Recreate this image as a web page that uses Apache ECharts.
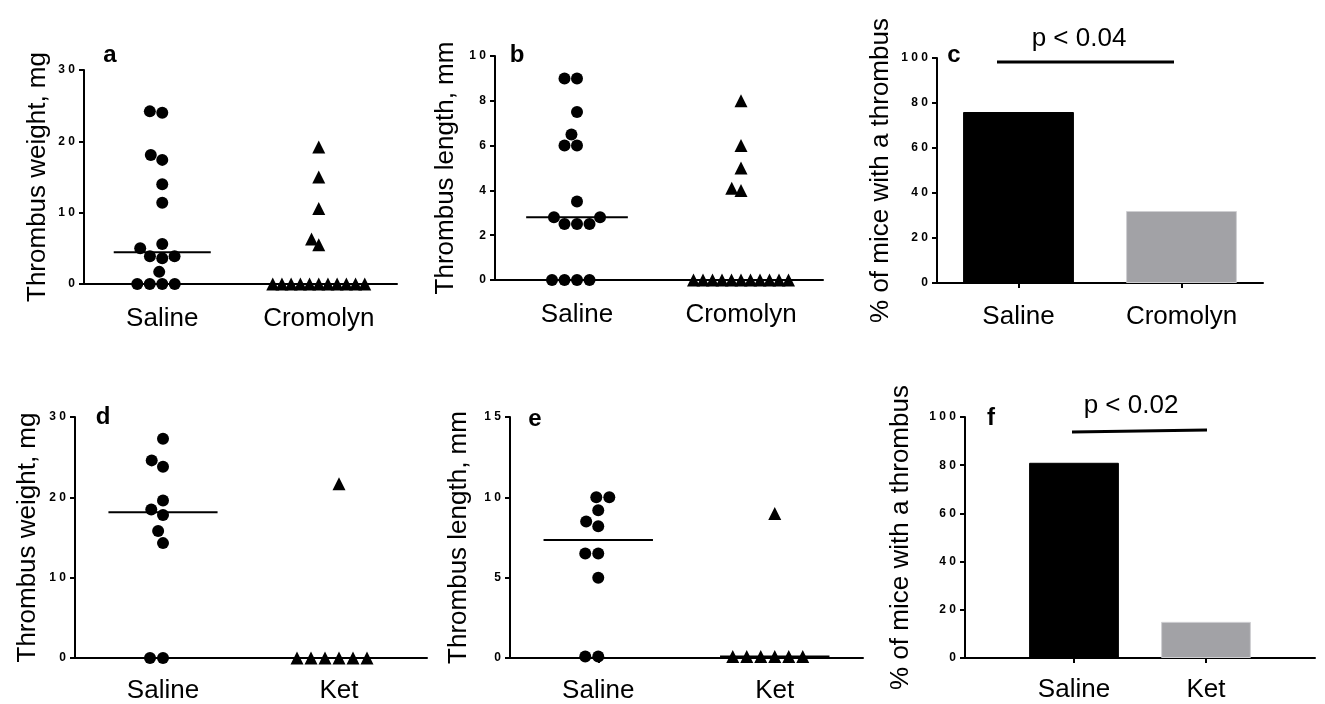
<!DOCTYPE html>
<html lang="en">
<head>
    <meta charset="UTF-8">
    <title>Thrombus panels a-f</title>
    <script src="https://cdn.jsdelivr.net/npm/echarts@6/dist/echarts.min.js"></script>
    <style>
        html, body { margin: 0; padding: 0; background: #fff; }
        #main { width: 1325px; height: 704px; }
    </style>
</head>
<body>
<div id="main"></div>
<script>
    // categories
    const groupsTop = ['Saline', 'Cromolyn'];
    const groupsBottom = ['Saline', 'Ket'];

    // a: thrombus weight (mg)
    const weightSalineA = [24.0, 24.2, 18.1, 17.4, 14.0, 11.4, 5.0, 5.6, 3.9, 3.6, 3.9, 1.7, 0, 0, 0, 0];
    const weightCromolynA = [19.2, 15.0, 10.6, 6.3, 5.5, 0, 0, 0, 0, 0, 0, 0, 0, 0, 0, 0];
    // b: thrombus length (mm)
    const lengthSalineB = [9, 9, 7.5, 6.5, 6, 6, 3.5, 2.8, 2.8, 2.5, 2.5, 2.5, 0, 0, 0, 0];
    const lengthCromolynB = [8, 6, 5, 4.1, 4.0, 0, 0, 0, 0, 0, 0, 0, 0, 0, 0, 0];
    // c: % of mice with a thrombus
    const pctC = [76, 32];
    // d: thrombus weight (mg)
    const weightSalineD = [27.3, 24.6, 23.8, 19.6, 18.5, 17.8, 15.8, 14.3, 0, 0];
    const weightKetD = [21.7, 0, 0, 0, 0, 0, 0];
    // e: thrombus length (mm)
    const lengthSalineE = [10, 10, 9.2, 8.5, 8.2, 6.5, 6.5, 5.0, 0.1, 0.1];
    const lengthKetE = [9.0, 0.1, 0.1, 0.1, 0.1, 0.1, 0.1];
    // f: % of mice with a thrombus
    const pctF = [81, 15];

    const pLabels = ['p < 0.04', 'p < 0.02'];
    const panelLetters = ['a', 'b', 'c', 'd', 'e', 'f'];

    const FONT = '"Liberation Sans", Arial, Helvetica, sans-serif';
    const barColors = ['#000000', '#a2a2a6'];

    function median(arr) {
        const s = arr.slice().sort((x, y) => x - y);
        const n = s.length;
        return n % 2 ? s[(n - 1) / 2] : (s[n / 2 - 1] + s[n / 2]) / 2;
    }

    // simple beeswarm: horizontal pixel offsets so symbols don't overlap
    function swarm(vals, pxPerUnit, gap) {
        const idx = vals.map((v, i) => i).sort((i, j) => vals[i] - vals[j]);
        const placed = [];
        const out = new Array(vals.length).fill(0);
        idx.forEach(i => {
            const y = vals[i] * pxPerUnit;
            const cands = [0];
            placed.forEach(p => {
                const dy = Math.abs(p.y - y);
                if (dy < gap) {
                    const h = Math.sqrt(gap * gap - dy * dy);
                    cands.push(p.x - h, p.x + h);
                }
            });
            let best = null;
            cands.forEach(x => {
                const ok = placed.every(p => Math.hypot(p.x - x, p.y - y) >= gap - 1e-6);
                if (ok && (best === null || Math.abs(x) < Math.abs(best) - 1e-6)) best = x;
            });
            placed.push({x: best, y: y});
            out[i] = best;
        });
        return out;
    }

    const grids = [
        {left: 84, top: 70, width: 313, height: 214},    // a
        {left: 495, top: 56, width: 328, height: 224},   // b
        {left: 937, top: 58, width: 326, height: 225},   // c
        {left: 75, top: 417, width: 352, height: 241},   // d
        {left: 510, top: 417, width: 353, height: 241},  // e
        {left: 965, top: 417, width: 350, height: 241},  // f (axes)
        {left: 1008, top: 417, width: 264, height: 241}  // f (bars)
    ];

    const axisLine = {show: true, lineStyle: {color: '#000', width: 2}};
    const axisTick = {show: true, length: 5, lineStyle: {color: '#000', width: 2}};

    function xCat(gridIndex, cats, margin) {
        return {
            type: 'category', gridIndex: gridIndex, data: cats,
            axisLine: axisLine,
            axisTick: Object.assign({alignWithLabel: true}, axisTick),
            axisLabel: {color: '#000', fontSize: 26, fontFamily: FONT, margin: margin},
            splitLine: {show: false}
        };
    }

    function yVal(gridIndex, max, interval, name, gap) {
        return {
            type: 'value', gridIndex: gridIndex, min: 0, max: max, interval: interval,
            name: name, nameLocation: 'middle', nameGap: gap, nameRotate: 90,
            nameTextStyle: {color: '#000', fontSize: 26, fontFamily: FONT},
            axisLine: axisLine, axisTick: axisTick,
            axisLabel: {
                color: '#000', fontSize: 12, fontWeight: 'bold', fontFamily: FONT, margin: 9,
                formatter: v => String(v).split('').join(' ')
            },
            splitLine: {show: false}
        };
    }

    const xAxes = [
        xCat(0, groupsTop, 22), xCat(1, groupsTop, 22), xCat(2, groupsTop, 21),
        xCat(3, groupsBottom, 20), xCat(4, groupsBottom, 20),
        {type: 'category', gridIndex: 5, data: groupsBottom, axisLine: axisLine,
            axisTick: {show: false}, axisLabel: {show: false}},
        xCat(6, groupsBottom, 19)
    ];
    xAxes[6].axisLine = {show: false};

    const yAxes = [
        yVal(0, 30, 10, 'Thrombus weight, mg', 33),
        yVal(1, 10, 2, 'Thrombus length, mm', 36),
        yVal(2, 100, 20, '% of mice with a thrombus', 43),
        yVal(3, 30, 10, 'Thrombus weight, mg', 34),
        yVal(4, 15, 5, 'Thrombus length, mm', 38),
        yVal(5, 100, 20, '% of mice with a thrombus', 51),
        {type: 'value', gridIndex: 6, min: 0, max: 100, show: false}
    ];

    const series = [];

    function dotPanel(axisIdx, left, right, gapDot, gapTri) {
        const g = grids[axisIdx];
        const pxu = g.height / yAxes[axisIdx].max;
        [[left, 'circle', gapDot, 0], [right, 'triangle', gapTri, 1]].forEach(([vals, sym, gap, cat]) => {
            const off = swarm(vals, pxu, gap);
            series.push({
                type: 'scatter', xAxisIndex: axisIdx, yAxisIndex: axisIdx,
                symbol: sym, symbolSize: sym === 'circle' ? 12 : 13,
                itemStyle: {color: '#000', opacity: 1}, z: 3,
                data: vals.map((v, i) => ({value: [cat, v], symbolOffset: [off[i], 0]}))
            });
        });
        series.push({
            type: 'custom', xAxisIndex: axisIdx, yAxisIndex: axisIdx, z: 4,
            data: [[0, median(left)], [1, median(right)]],
            renderItem: (params, api) => {
                const c = api.coord([api.value(0), api.value(1)]);
                const half = api.size([1, 0])[0] * 0.31;
                return {
                    type: 'line',
                    shape: {x1: c[0] - half, y1: c[1], x2: c[0] + half, y2: c[1]},
                    style: {stroke: '#000', lineWidth: 2}
                };
            }
        });
    }

    function barPanel(axisIdx, vals) {
        series.push({
            type: 'bar', xAxisIndex: axisIdx, yAxisIndex: axisIdx, barWidth: '68%',
            data: vals.map((v, i) => ({
                value: v,
                itemStyle: {color: barColors[i], borderColor: i ? '#cfcfd2' : '#000', borderWidth: 1}
            }))
        });
    }

    dotPanel(0, weightSalineA, weightCromolynA, 12.5, 9.2);
    dotPanel(1, lengthSalineB, lengthCromolynB, 12.5, 9.5);
    barPanel(2, pctC);
    dotPanel(3, weightSalineD, weightKetD, 13, 14);
    dotPanel(4, lengthSalineE, lengthKetE, 13, 14);
    barPanel(6, pctF);

    // panel letters and significance annotations
    const letterPos = [[110, 55], [517, 55], [954, 55], [103, 417], [535, 419], [991, 418]];
    const graphic = panelLetters.map((t, i) => ({
        type: 'text', x: letterPos[i][0], y: letterPos[i][1],
        style: {text: t, font: 'bold 24px ' + FONT, fill: '#000', align: 'center', verticalAlign: 'middle'}
    }));
    graphic.push(
        {type: 'line', shape: {x1: 997, y1: 62, x2: 1174, y2: 62}, style: {stroke: '#000', lineWidth: 3}},
        {type: 'text', x: 1079, y: 39, style: {text: pLabels[0], font: '26px ' + FONT, fill: '#000', align: 'center', verticalAlign: 'middle'}},
        {type: 'line', shape: {x1: 1072, y1: 432, x2: 1207, y2: 430}, style: {stroke: '#000', lineWidth: 3}},
        {type: 'text', x: 1131, y: 406, style: {text: pLabels[1], font: '26px ' + FONT, fill: '#000', align: 'center', verticalAlign: 'middle'}}
    );

    const myChart = echarts.init(document.getElementById('main'));
    myChart.setOption({
        animation: false,
        backgroundColor: '#fff',
        grid: grids,
        xAxis: xAxes,
        yAxis: yAxes,
        series: series,
        graphic: graphic
    });
</script>
</body>
</html>
